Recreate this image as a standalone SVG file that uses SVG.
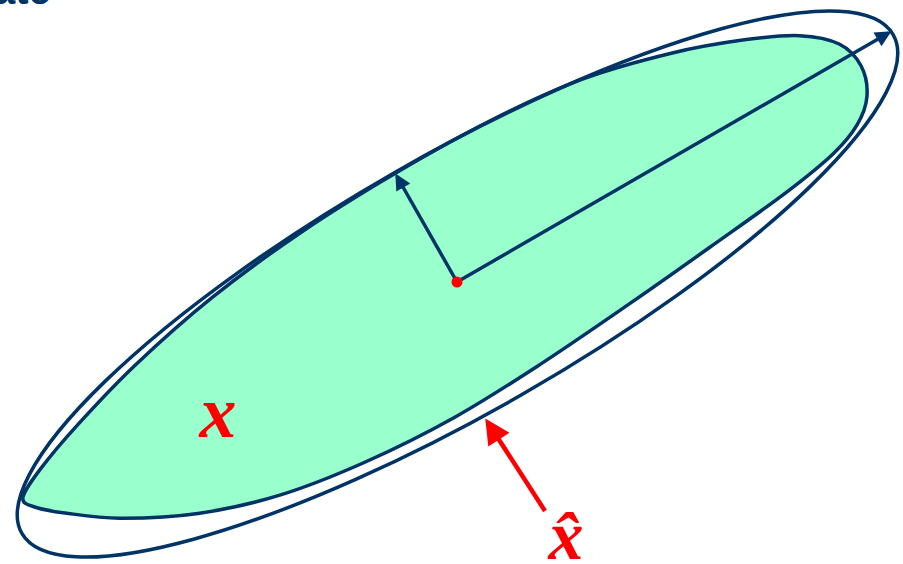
<svg xmlns="http://www.w3.org/2000/svg" width="903" height="564" viewBox="0 0 903 564">
<style>
.edge{fill:none;stroke:#003366;stroke-width:3.5}
.region{fill:#99FFCC;stroke:#003366;stroke-width:3.5;stroke-linejoin:round}
.axis{fill:none;stroke:#003366;stroke-width:3.5}
.pointer{fill:none;stroke:#FF0000;stroke-width:4.5}
.math{font-family:"Liberation Serif","DejaVu Serif",serif;font-style:italic;font-weight:bold;fill:#FF0000}
.title{font-family:"Liberation Sans",Arial,sans-serif;font-weight:bold;fill:#003366}
</style>
<defs>
<marker id="navyHead" viewBox="0 0 10 10" refX="7.9" refY="5" markerWidth="5.5" markerHeight="4.6" orient="auto" markerUnits="strokeWidth">
<path d="M0,0 L10,5 L0,10 z" fill="#003366"/>
</marker>
<marker id="redHead" viewBox="0 0 10 10" refX="8.2" refY="5" markerWidth="6.2" markerHeight="5.6" orient="auto" markerUnits="strokeWidth">
<path d="M0,0 L10,5 L0,10 z" fill="#FF0000"/>
</marker>
</defs>
<text class="title" x="-7" y="3.5" font-size="40">ate</text>
<g id="region-x">
<path class="region" transform="translate(457,282) rotate(-30)" d="M-484,-30 C-480.33,-35.17 -469,-40 -455,-46 C-441,-52 -422.5,-58.83 -400,-66 C-377.5,-73.17 -350,-81.83 -320,-89 C-290,-96.17 -255,-103.67 -220,-109 C-185,-114.33 -146.67,-118.33 -110,-121 C-73.33,-123.67 -36.67,-124.67 0,-125 C36.67,-125.33 75,-125 110,-123 C145,-121 178.330,-118.33 210,-113 C241.67,-107.67 273.33,-98.83 300,-91 C326.67,-83.17 350,-74.17 370,-66 C390,-57.83 406.67,-50.5 420,-42 C433.33,-33.5 443.67,-24.5 450,-15 C456.33,-5.5 458.33,5.17 458,15 C457.67,24.83 453.5,35.83 448,44 C442.5,52.17 434.67,58.5 425,64 C415.33,69.5 405.83,73.17 390,77 C374.17,80.83 355,83.83 330,87 C305,90.17 271.67,93 240,96 C208.33,99 175,102.17 140,105 C105,107.83 65,111.17 30,113 C-5,114.83 -36.67,116.5 -70,116 C-103.33,115.5 -138.33,113.33 -170,110 C-201.67,106.67 -231.67,102.5 -260,96 C-288.33,89.5 -315,81 -340,71 C-365,61 -390.83,47.17 -410,36 C-429.17,24.83 -443.83,12.5 -455,4 C-466.17,-4.5 -472.17,-9.33 -477,-15 C-481.83,-20.67 -487.67,-24.83 -484,-30 Z"/>
<text class="math" x="218" y="437" font-size="74" text-anchor="middle">x</text>
</g>
<g id="region-xhat">
<ellipse class="edge" cx="457.5" cy="284" rx="502" ry="128" transform="rotate(-29.8 457.5 284)"/>
<text class="math" x="566" y="559" font-size="70" text-anchor="middle">x̂</text>
</g>
<g id="connectors">
<line class="axis" x1="457" y1="282" x2="888.5" y2="33" marker-end="url(#navyHead)"/>
<line class="axis" x1="457" y1="282" x2="397" y2="176.5" marker-end="url(#navyHead)"/>
<line class="pointer" x1="545" y1="511" x2="487.7" y2="422.2" marker-end="url(#redHead)"/>
</g>
<g id="center">
<circle cx="457" cy="282" r="5.5" fill="#FF0000"/>
</g>
</svg>
